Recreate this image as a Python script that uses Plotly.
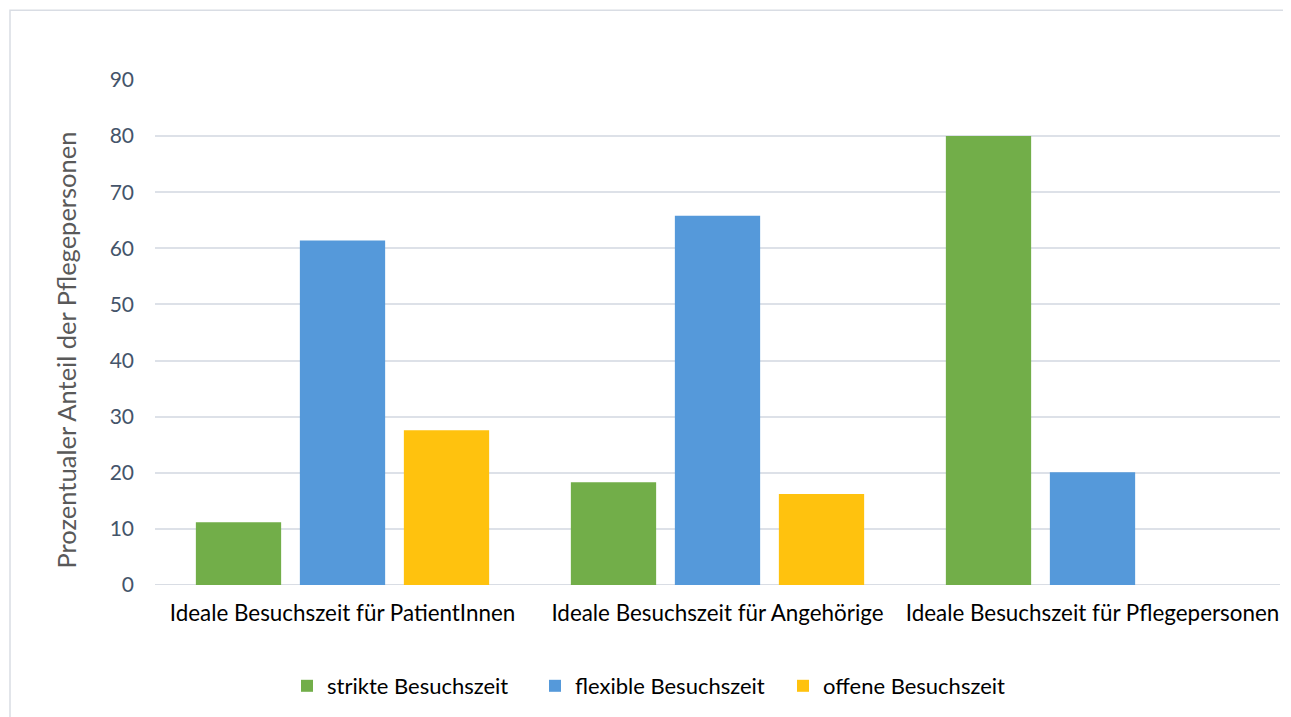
import plotly.graph_objects as go

categories = ["Ideale Besuchszeit für PatientInnen",
              "Ideale Besuchszeit für Angehörige",
              "Ideale Besuchszeit für Pflegepersonen"]
series_names = ["strikte Besuchszeit", "flexible Besuchszeit", "offene Besuchszeit"]
strikt = [11.2, 18.3, 80.0]
flexibel = [61.4, 65.8, 20.1]
offen = [27.6, 16.2, None]
tick_vals = [0, 10, 20, 30, 40, 50, 60, 70, 80, 90]

colors = ["#72AE49", "#5599DA", "#FFC20E"]

fig = go.Figure()
for name, vals, c in zip(series_names, [strikt, flexibel, offen], colors):
    fig.add_trace(go.Bar(name=name, x=categories, y=vals,
                         marker=dict(color=c, line=dict(width=0))))

# page body has an 8px margin, so the figure is drawn 8px smaller/offset
OFF = 8
W, H = 1291 - OFF, 717 - OFF
ml, mr, mt, mb = 155 - OFF, 11, 80 - OFF, 131
pw, ph = W - ml - mr, H - mt - mb
y0px = 586 - OFF  # pixel of y=0 within figure

def py(pix):
    return (y0px - (pix - OFF)) / ph

def px(pix):
    return ((pix - OFF) - ml) / pw

FONT = "Lato"

fig.update_layout(
    width=W, height=H,
    margin=dict(l=ml, r=mr, t=mt, b=mb),
    paper_bgcolor="white", plot_bgcolor="white",
    barmode="group", bargap=0.168, bargroupgap=0.18,
    font=dict(family=FONT, size=22, color="#000000"),
    showlegend=True,
    legend=dict(orientation="h", x=px(659), xanchor="center", y=py(686), yanchor="middle",
                font=dict(family=FONT, size=22, color="#000000"),
                itemwidth=30, entrywidth=203,
                traceorder="normal"),
    xaxis=dict(showgrid=False, showline=False, ticks="", ticklabelstandoff=13,
               tickfont=dict(family=FONT, size=22.4, color="#000000")),
    yaxis=dict(range=[0, 90], tickvals=tick_vals, showgrid=True,
               gridcolor="#DDE1E8", gridwidth=1.5, zeroline=False,
               showline=False, ticks="", ticklabelstandoff=20,
               tickfont=dict(family=FONT, size=21, color="#44546A")),
    annotations=[dict(text="Prozentualer Anteil der Pflegepersonen",
                      xref="paper", yref="paper",
                      x=px(66), y=py(351), xanchor="center", yanchor="middle",
                      textangle=-90, showarrow=False,
                      font=dict(family=FONT, size=25.5, color="#595959"))],
    shapes=[
        dict(type="line", xref="paper", yref="y", x0=0, x1=1, y0=0, y1=0,
             line=dict(color="#D9DDE4", width=2), layer="below"),
        dict(type="rect", xref="paper", yref="paper",
             x0=px(10), x1=px(1285),
             y0=py(740), y1=py(10),
             line=dict(color="#D9DDE4", width=1.5), layer="below"),
    ],
)

fig.write_html("out.html")
